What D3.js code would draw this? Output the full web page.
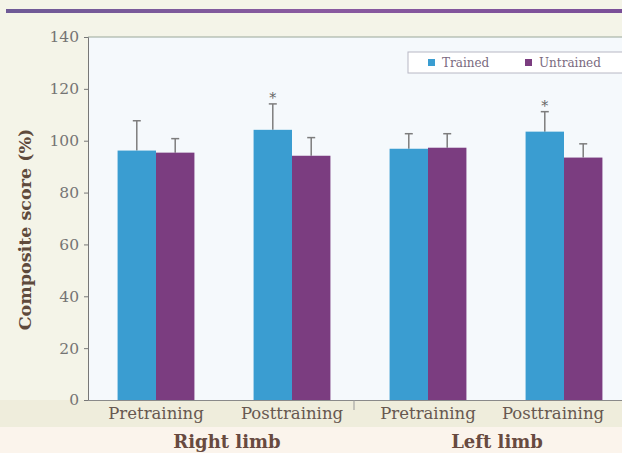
<!DOCTYPE html>
<html>
<head>
<meta charset="utf-8">
<script src="https://cdn.jsdelivr.net/npm/d3@7"></script>
<style>
  html, body { margin: 0; padding: 0; background: #f6f4ea; }
  svg { display: block; }
</style>
</head>
<body>
<svg id="chart" width="622" height="453"></svg>
<script>
// Composite scores by session, split by limb
const limbs = ["Right limb", "Left limb"];
const sessions = ["Pretraining", "Posttraining", "Pretraining", "Posttraining"];
const seriesNames = ["Trained", "Untrained"];
const trainedMean = [96.2, 104.2, 96.9, 103.5];
const trainedErr = [11.5, 10.0, 5.8, 7.7];
const untrainedMean = [95.4, 94.2, 97.3, 93.5];
const untrainedErr = [5.4, 7.0, 5.4, 5.3];
const significant = [false, true, false, true];
const yTicks = [0, 20, 40, 60, 80, 100, 120, 140];

const colors = { Trained: "#3a9dd1", Untrained: "#7b3d80" };
const serif = "DejaVu Serif, serif";

const svg = d3.select("#chart");
const W = 622, H = 453;
const margin = { left: 88, top: 37, bottom: 400 };
const bandW = 136;

// backgrounds
svg.append("rect").attr("width", W).attr("height", H).attr("fill", "#f4f4e8");
svg.append("rect").attr("x", 0).attr("y", 400).attr("width", W).attr("height", 27).attr("fill", "#efeddc");
svg.append("rect").attr("x", 0).attr("y", 427).attr("width", W).attr("height", 26).attr("fill", "#fbf4ec");
svg.append("rect").attr("x", margin.left).attr("y", margin.top).attr("width", W - margin.left).attr("height", margin.bottom - margin.top).attr("fill", "#f5f9fc");

// top rule
const grad = svg.append("defs").append("linearGradient").attr("id", "rule").attr("x1", 0).attr("x2", 1);
grad.append("stop").attr("offset", 0).attr("stop-color", "#6e5a96");
grad.append("stop").attr("offset", 0.5).attr("stop-color", "#8a5aa0");
grad.append("stop").attr("offset", 1).attr("stop-color", "#7a4f98");
svg.append("rect").attr("x", 6).attr("y", 9).attr("width", W - 6).attr("height", 4).attr("fill", "url(#rule)");

const x0 = d3.scaleBand().domain(d3.range(sessions.length)).range([margin.left, margin.left + bandW * sessions.length]).paddingInner(0).paddingOuter(0);
const x1 = d3.scaleBand().domain(seriesNames).range([0, x0.bandwidth()]).paddingInner(0).paddingOuter(0.77);
const y = d3.scaleLinear().domain([0, 140]).range([margin.bottom, margin.top]);

// top frame line
svg.append("line").attr("x1", margin.left).attr("x2", W).attr("y1", y(140)).attr("y2", y(140))
  .attr("stroke", "#9aa89a").attr("stroke-width", 1);

// y axis
const yAxis = svg.append("g").attr("transform", `translate(${margin.left},0)`)
  .call(d3.axisLeft(y).tickValues(yTicks).tickSize(4).tickPadding(5));
yAxis.select(".domain").attr("stroke", "#777");
yAxis.selectAll(".tick line").attr("stroke", "#777");
yAxis.selectAll("text").attr("font-family", serif).attr("font-size", 15.5).attr("fill", "#747474");

// bars
const data = sessions.map((s, i) => ({
  i,
  bars: [
    { key: "Trained", v: trainedMean[i], e: trainedErr[i] },
    { key: "Untrained", v: untrainedMean[i], e: untrainedErr[i] }
  ]
}));

const groups = svg.append("g").selectAll("g").data(data).join("g")
  .attr("transform", d => `translate(${x0(d.i)},0)`);

// error bars (drawn first so the bars cover the stems)
groups.selectAll("g.err").data(d => d.bars).join("g").attr("class", "err").each(function(b) {
  const cx = x1(b.key) + x1.bandwidth() / 2;
  const g = d3.select(this);
  g.append("line").attr("x1", cx).attr("x2", cx).attr("y1", y(b.v)).attr("y2", y(b.v + b.e))
    .attr("stroke", "#7d7d7d").attr("stroke-width", 1.5);
  g.append("line").attr("x1", cx - 4).attr("x2", cx + 4).attr("y1", y(b.v + b.e)).attr("y2", y(b.v + b.e))
    .attr("stroke", "#7d7d7d").attr("stroke-width", 1.5);
});

groups.selectAll("rect").data(d => d.bars).join("rect")
  .attr("x", b => x1(b.key))
  .attr("width", x1.bandwidth())
  .attr("y", b => y(b.v))
  .attr("height", b => y(0) - y(b.v))
  .attr("fill", b => colors[b.key]);

// significance markers
groups.filter(d => significant[d.i]).append("text")
  .attr("x", x1("Trained") + x1.bandwidth() / 2)
  .attr("y", d => y(trainedMean[d.i] + trainedErr[d.i]) - 1)
  .attr("text-anchor", "middle")
  .attr("font-family", serif).attr("font-size", 14).attr("fill", "#666")
  .text("*");

// x baseline
svg.append("line").attr("x1", margin.left).attr("x2", W).attr("y1", y(0) + 0.5).attr("y2", y(0) + 0.5)
  .attr("stroke", "#8a8a8a").attr("stroke-width", 1);
// separator tick between limbs
svg.append("line").attr("x1", x0(2) - 6).attr("x2", x0(2) - 6).attr("y1", y(0)).attr("y2", y(0) + 10)
  .attr("stroke", "#999").attr("stroke-width", 1);

// session labels
svg.append("g").selectAll("text").data(sessions).join("text")
  .attr("x", (d, i) => x0(i) + x0.bandwidth() / 2 + (i === 3 ? -11 : 0))
  .attr("y", 419)
  .attr("text-anchor", "middle")
  .attr("font-family", serif).attr("font-size", 16.5).attr("fill", "#675850")
  .text(d => d);

// limb labels
svg.append("g").selectAll("text").data(limbs).join("text")
  .attr("x", (d, i) => (x0(i * 2) + x0(i * 2 + 1) + x0.bandwidth()) / 2 + (i === 0 ? 3 : 1))
  .attr("y", 448)
  .attr("text-anchor", "middle")
  .attr("font-family", serif).attr("font-size", 18).attr("font-weight", "bold").attr("fill", "#684a40")
  .text(d => d);

// y axis title
svg.append("text")
  .attr("transform", `translate(31,${(margin.top + margin.bottom) / 2 + 11}) rotate(-90)`)
  .attr("text-anchor", "middle")
  .attr("font-family", serif).attr("font-size", 17.5).attr("font-weight", "bold").attr("fill", "#5e4a3c")
  .text("Composite score (%)");

// legend
const lg = svg.append("g").attr("transform", "translate(408,52)");
lg.append("rect").attr("width", 220).attr("height", 21).attr("fill", "#ffffff").attr("stroke", "#b8b8c4").attr("stroke-width", 1);
const items = lg.selectAll("g").data(seriesNames).join("g")
  .attr("transform", (d, i) => `translate(${i === 0 ? 20 : 117},0)`);
items.append("rect").attr("y", 7).attr("width", 7).attr("height", 7).attr("fill", d => colors[d]);
items.append("text").attr("x", 14).attr("y", 15)
  .attr("font-family", serif).attr("font-size", 12).attr("fill", "#7a6a80")
  .text(d => d);
</script>
</body>
</html>
